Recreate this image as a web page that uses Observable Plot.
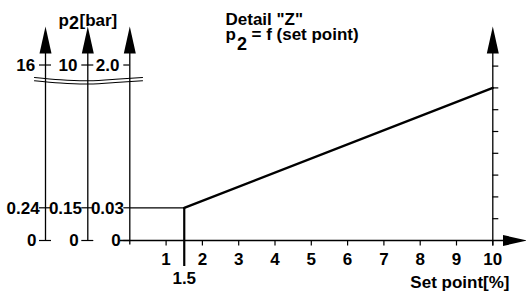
<!DOCTYPE html>
<html><head><meta charset="utf-8">
<script src="https://cdn.jsdelivr.net/npm/d3@7"></script>
<script src="https://cdn.jsdelivr.net/npm/@observablehq/plot@0.6"></script>
<style>html,body{margin:0;padding:0;background:#fff;overflow:hidden}</style>
</head><body><div id="chart"></div>
<script>
// ---- data ----
const setPoint = [1.5, 10];
const pressureLevel = [1.5, 7];
const xTicks = [1, 2, 3, 4, 5, 6, 7, 8, 9, 10];
const xTickLabels = ["1", "2", "3", "4", "5", "6", "7", "8", "9", "10"];
const startTick = 1.5;
const startTickLabel = "1.5";
const rightTicks = [1, 2, 3, 4, 5, 6, 7, 8];
const scaleTopLabels = ["16", "10", "2.0"];
const scaleMidLabels = ["0.24", "0.15", "0.03"];
const scaleZeroLabels = ["0", "0", "0"];
const scaleLevels = [0, 1.5, 8.05];
const title1 = 'Detail "Z"';
const title2 = ["p", "2", "= f (set point)"];
const unitLabel = ["p", "2", "[bar]"];
const xLabel = "Set point[%]";

// ---- layout helpers (pixel -> scale units) ----
const W = 526, H = 291, X0 = 129.3, KX = 36.3, Y0 = 240, KY = 21.8;
const ux = px => (px - X0) / KX;
const uy = py => (Y0 - py) / KY;
const axisPos = [ux(45), ux(87.3), 0];
const arrowBase = uy(53);
const tickLen = 6 / KX;

const upArrow = {draw(ctx) { ctx.moveTo(0, -27); ctx.lineTo(6, 0); ctx.lineTo(-6, 0); ctx.closePath(); }};
const rightArrow = {draw(ctx) { ctx.moveTo(24, 0); ctx.lineTo(0, -5.5); ctx.lineTo(0, 5.5); ctx.closePath(); }};

const leftTicks = [];
axisPos.forEach((a, i) => scaleLevels.forEach(l => {
  leftTicks.push({y: l, x1: a - tickLen, x2: i < 2 ? a + tickLen : a});
}));

const wavePx = [[34, 60, 88, 115, 142], [77, 79.3, 80.3, 78.8, 77]];
const breakLines = [];
[0, 3.2].forEach((off, k) => wavePx[0].forEach((px, j) => breakLines.push({k, x: ux(px), y: uy(wavePx[1][j] + off)})));

const font = "'Liberation Sans', Arial, Helvetica, sans-serif";

const chart = Plot.plot({
  width: W, height: H,
  marginLeft: X0, marginRight: W - (X0 + 10 * KX),
  marginTop: Y0 - 8 * KY, marginBottom: H - Y0,
  x: {domain: [0, 10], axis: null},
  y: {domain: [0, 8], axis: null},
  style: {fontFamily: font, fontWeight: "bold", fontSize: "17px", background: "#fff", color: "#000", overflow: "visible"},
  marks: [
    // vertical axes
    Plot.ruleX(axisPos, {x: d => d, y1: (d, i) => i < 2 ? 0 : uy(244.5), y2: arrowBase, stroke: "#000", strokeWidth: 1.3}),
    Plot.ruleX([10], {y1: uy(245.5), y2: arrowBase, stroke: "#000", strokeWidth: 1.3}),
    Plot.dot([...axisPos, 10], {x: d => d, y: arrowBase, symbol: upArrow, fill: "#000", stroke: "none"}),
    // x axis
    Plot.ruleY([0], {x1: ux(120), x2: ux(503), stroke: "#000", strokeWidth: 1.3}),
    Plot.dot([0], {x: ux(502.5), y: 0, symbol: rightArrow, fill: "#000", stroke: "none"}),
    Plot.ruleX(xTicks, {x: d => d, y1: 0, y2: uy(245.5), stroke: "#000", strokeWidth: 1.2}),
    // right axis ticks
    Plot.ruleY(rightTicks, {y: d => d, x1: 10, x2: 10 + tickLen, stroke: "#000", strokeWidth: 1.2}),
    // left scale ticks
    Plot.ruleY(leftTicks, {y: "y", x1: "x1", x2: "x2", stroke: "#000", strokeWidth: 1.2}),
    // break marks
    Plot.line(breakLines, {x: "x", y: "y", z: "k", curve: "natural", stroke: "#000", strokeWidth: 1.1}),
    // characteristic
    Plot.ruleY([pressureLevel[0]], {x1: 0, x2: setPoint[0], stroke: "#000", strokeWidth: 1.2}),
    Plot.ruleX([startTick], {x: d => d, y1: uy(266), y2: pressureLevel[0], stroke: "#000", strokeWidth: 2.2}),
    Plot.line(setPoint.map((x, i) => ({x, y: pressureLevel[i]})), {x: "x", y: "y", stroke: "#000", strokeWidth: 2.4}),
    // tick labels
    Plot.text(xTicks, {x: d => d, y: uy(264.5), text: (d, i) => xTickLabels[i], lineAnchor: "bottom", textAnchor: "middle"}),
    Plot.text([startTick], {x: d => d, y: uy(283.5), text: () => startTickLabel, lineAnchor: "bottom", textAnchor: "middle"}),
    Plot.text(scaleTopLabels, {x: (d, i) => axisPos[i], y: scaleLevels[2], text: d => d, dx: -10.3, dy: 1, textAnchor: "end", lineAnchor: "middle"}),
    Plot.text(scaleMidLabels, {x: (d, i) => axisPos[i], y: scaleLevels[1], text: d => d, dx: -5.8, dy: 1, textAnchor: "end", lineAnchor: "middle"}),
    Plot.text(scaleZeroLabels, {x: (d, i) => axisPos[i], y: scaleLevels[0], text: d => d, dx: -9, textAnchor: "end", lineAnchor: "middle"}),
    Plot.text([xLabel], {x: ux(509), y: uy(287.5), text: d => d, textAnchor: "end", lineAnchor: "bottom"}),
    // titles
    Plot.text([title1], {x: ux(225), y: uy(24), text: d => d, textAnchor: "start", lineAnchor: "bottom"}),
    Plot.text([title2[0]], {x: ux(225), y: uy(39), text: d => d, textAnchor: "start", lineAnchor: "bottom"}),
    Plot.text([title2[1]], {x: ux(236.5), y: uy(49.5), text: d => d, textAnchor: "start", lineAnchor: "bottom", fontSize: 18}),
    Plot.text([title2[2]], {x: ux(251), y: uy(39), text: d => d, textAnchor: "start", lineAnchor: "bottom"}),
    Plot.text([unitLabel[0]], {x: ux(58), y: uy(25), text: d => d, textAnchor: "start", lineAnchor: "bottom"}),
    Plot.text([unitLabel[1]], {x: ux(68.5), y: uy(28.5), text: d => d, textAnchor: "start", lineAnchor: "bottom", fontSize: 18}),
    Plot.text([unitLabel[2]], {x: ux(79), y: uy(25), text: d => d, textAnchor: "start", lineAnchor: "bottom"})
  ]
});
document.getElementById("chart").appendChild(chart);
</script>
</body></html>
